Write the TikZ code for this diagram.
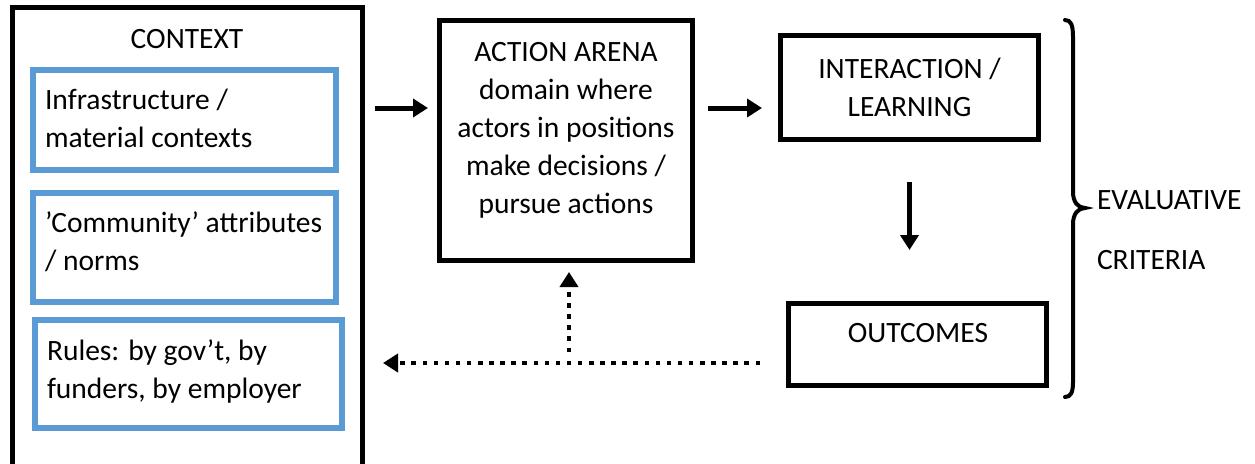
\documentclass[tikz,border=0pt]{standalone}
\usepackage{fontspec}
\setmainfont{Carlito}
\usetikzlibrary{arrows.meta}
\definecolor{blueb}{RGB}{91,155,213}
\begin{document}
\begin{tikzpicture}[x=1pt,y=-1pt,
  font=\fontsize{29.5}{38}\selectfont,
  blkbox/.style={draw=black, line width=5pt, minimum width=#1},
  bluebox/.style={draw=blueb, line width=6pt},
  txt/.style={inner sep=0pt, outer sep=0pt, text=black},
  arr/.style={line width=5pt, -{Triangle[length=15pt,width=18pt]}},
  dotarr/.style={line width=4.5pt, dash pattern=on 4.5pt off 6.6pt, -{Triangle[length=15pt,width=18pt]}}
]
\clip (0,0) rectangle (1255,463);
% context
\node[blkbox=350pt, minimum height=467pt] (ctx) at (187,241.25) {};
\node[txt, anchor=base] (ctxt) at (187,48) {CONTEXT};
\node[bluebox, minimum width=303pt, minimum height=100pt] (b1) at (184.5,120) {};
\node[bluebox, minimum width=303pt, minimum height=109pt] (b2) at (184.5,247.5) {};
\node[bluebox, minimum width=307pt, minimum height=108pt] (b3) at (188.5,374) {};
\node[txt, anchor=base west, align=left] (t1) at (45,147) {Infrastructure /\\material contexts};
\node[txt, anchor=base west, align=left] (t2) at (45,270) {’Community’ attributes\\/ norms};
\node[txt, anchor=base west, align=left] (t3) at (47,398) {Rules: by gov’t, by\\funders, by employer};
% action arena
\node[blkbox=253pt, minimum height=240pt] (arena) at (566,140.5) {};
\node[txt, anchor=base, align=center] (arenat) at (566,213) {ACTION ARENA\\domain where\\actors in positions\\make decisions /\\pursue actions};
% interaction
\node[blkbox=258pt, minimum height=104pt, align=center] (inter) at (909.5,87.5) {INTERACTION /\\LEARNING};
% outcomes
\node[blkbox=258pt, minimum height=82pt] (outc) at (917.5,344.5) {};
\node[txt, anchor=base] (outct) at (918,342) {OUTCOMES};
% arrows
\coordinate (r1) at (0,108);
\draw[arr, shorten <=10.5pt, shorten >=9pt] (ctx.east |- r1) -- (arena.west |- r1);
\draw[arr, shorten <=13pt, shorten >=16pt] (arena.east |- r1) -- (inter.west |- r1);
\draw[arr, shorten <=40pt, shorten >=51pt] (inter.south) -- (inter.south |- outc.north);
\coordinate (j) at (569,363);
\draw[dotarr, shorten <=26pt, shorten >=18.5pt] (outc.west |- j) -- (ctx.east |- j);
\draw[dotarr, shorten <=11pt, shorten >=9pt] (j) -- (j |- arena.south);
% brace
\draw[line width=4pt, line cap=round]
  (1065,20) .. controls (1071,20) and (1073,25) .. (1073,37)
  -- (1073,192) .. controls (1073,202) and (1078,208) .. (1085,208)
  .. controls (1078,208) and (1073,214) .. (1073,224)
  -- (1073,382) .. controls (1073,392) and (1071,397) .. (1065,397);
\node[txt, anchor=base west, align=left] (evc) at (1097,269) {EVALUATIVE\\[22pt]CRITERIA};
\end{tikzpicture}
\end{document}
